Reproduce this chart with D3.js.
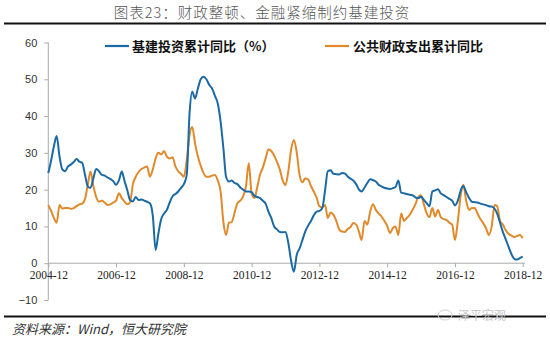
<!DOCTYPE html>
<html>
<head>
<meta charset="utf-8">
<script src="https://cdn.jsdelivr.net/npm/d3@7"></script>
<style>
  html, body { margin: 0; padding: 0; background: #fff; }
  svg { display: block; }
</style>
</head>
<body>
<svg id="chart" width="550" height="343"></svg>
<script>
// Monthly series, 2004-12 through 2018-12 (cumulative YoY, %)
const startMonth = "2004-12";
const infraInvest = [
  24.5, 28, 32, 34.6, 29, 25.5, 25, 26.3, 26.8, 27.5, 28.3, 27.6, 27.3,
  24, 20.8, 20.5, 23.1, 25.6, 25, 24, 23.8, 23.3, 22.9, 22.3, 21.3,
  22.5, 24.9, 22.5, 19.9, 17.2, 16.8, 18, 17.2, 17.3, 17, 16.7, 16.3,
  13, 3.6, 8, 12, 13.5, 14.5, 16.5, 18.2, 18.8, 19.5, 20.5, 21.5,
  24, 41, 46.6, 44.8, 47.5, 50, 50.7, 50, 48.5, 47.5, 45.5, 43.5,
  38.5, 31, 23.5, 22.2, 22.5, 21.8, 21.5, 20.6, 20, 19.5, 19.5, 19.3,
  18.3, 18, 17.7, 17, 16.2, 14, 12.3, 10, 9.2, 8.5, 8.4, 8.5,
  5.5, 0.5, -2.3, 2.3, 4, 6.3, 8.6, 10.2, 11.5, 13, 14, 14.2,
  15, 20, 25, 25.3, 24.3, 24.2, 24.1, 24.5, 24.4, 23.6, 23, 22.5,
  21.5, 20, 19.5, 20.6, 21.8, 22.8, 22.6, 22.2, 21.3, 20.9, 20.5, 20.3,
  20.2, 20.4, 20.7, 22.5, 19.2, 19, 18.8, 18.6, 18.5, 17.9, 17.7, 18.1,
  17.2, 16.3, 15.5, 19.5, 19.8, 20.1, 19, 18.5, 18, 17.5, 17, 15.7,
  17, 19.8, 21, 19.3, 17.8, 16.7, 16.6, 16.5, 16.2, 16, 15.8, 15.5,
  15.4, 14.8, 13.5, 11, 8.5, 6.5, 4.5, 2.5, 1.2, 1.0, 1.4, 1.8
];
const fiscalSpend = [
  15.8, 14.2, 12.2, 11, 15.8, 14.9, 15, 15, 14.8, 15, 15.5, 16, 16.2,
  17.5, 21.5, 24.9, 21, 18, 16.7, 17, 16.5, 15.8, 16, 16.5, 17,
  19, 17.7, 16.8, 16, 16.5, 21.5, 23.5, 24.8, 25.6, 26, 26.3, 23.5,
  25.5, 28.5, 30, 29.6, 30.5, 29, 28.5, 28.8, 26.3, 25, 24.3, 23.5,
  28, 35, 37, 32.5, 29, 26.5, 24.5, 23.5, 23.5, 23.8, 24, 22.5,
  19.5, 11, 7.7, 11, 11.2, 13.8, 16.3, 17, 18.2, 20.8, 27.2, 19,
  17.7, 20.8, 24, 26, 28.5, 31, 30.5, 29.3, 27.5, 25.5, 22.5, 21.2,
  25, 31, 33.5, 30, 24, 22, 23, 22.8, 21, 19.5, 17.8, 15.5,
  15.2, 15.8, 12.3, 13.8, 13.2, 11.5, 9.2, 8.6, 8.5, 9.3, 9.8, 10.9,
  10.5, 8.5, 6.3, 11.5, 10.5, 14, 16, 14.5, 13.5, 12.7, 11.5, 10.2,
  8.2, 9.6, 10, 7.7, 13.5, 11.5, 12.3, 13.1, 14.5, 16, 18, 18.5,
  16, 13.5, 12.5, 15, 12.7, 14.5, 12.5, 12, 11.8, 11, 10.5, 6.3,
  11.5, 18.5, 21.3, 17, 14.5, 15, 15, 13.5, 12, 10.9, 9.5, 7.7,
  10, 15.8, 15.5, 11.5, 10.5, 9, 8, 7.5, 7.1, 7.4, 7.7, 6.8
];
const seriesNames = ["基建投资累计同比（%）", "公共财政支出累计同比"];
const seriesColors = ["#1b6aa6", "#e08a2c"];
const xTickLabels = ["2004-12", "2006-12", "2008-12", "2010-12", "2012-12", "2014-12", "2016-12", "2018-12"];
const yTicks = [-10, 0, 10, 20, 30, 40, 50, 60];

const parseMonth = d3.timeParse("%Y-%m");
const fmtMonth = d3.timeFormat("%Y-%m");
const start = parseMonth(startMonth);
const dates = infraInvest.map((_, i) => d3.timeMonth.offset(start, i));

const svg = d3.select("#chart");

const x = d3.scaleTime()
  .domain([start, parseMonth(xTickLabels[xTickLabels.length - 1])])
  .range([48.3, 522.7]);
const y = d3.scaleLinear().domain([-10, 60]).range([300, 42.5]);

// Title and rules
svg.append("text")
  .attr("x", 262).attr("y", 18)
  .attr("text-anchor", "middle")
  .attr("font-family", "'Noto Sans CJK SC', sans-serif")
  .attr("font-size", 14.5)
  .attr("font-weight", 300)
  .attr("letter-spacing", 1)
  .attr("fill", "#555")
  .text("图表23：财政整顿、金融紧缩制约基建投资");

svg.append("line").attr("x1", 4).attr("x2", 546).attr("y1", 23.5).attr("y2", 23.5)
  .attr("stroke", "#111").attr("stroke-width", 2.2);
svg.append("line").attr("x1", 4).attr("x2", 546).attr("y1", 316.5).attr("y2", 316.5)
  .attr("stroke", "#111").attr("stroke-width", 2.2);

// Y axis
const yAxis = d3.axisLeft(y).tickValues(yTicks).tickSize(4).tickPadding(7);
const gy = svg.append("g").attr("transform", "translate(48.3,0)").call(yAxis);
gy.select(".domain").attr("stroke", "#aaa").attr("d", `M0,${y(60)}V${y(-10)}`);
gy.selectAll(".tick line").attr("stroke", "#aaa");
gy.selectAll(".tick text")
  .attr("font-family", "'Liberation Sans', Arial, sans-serif")
  .attr("font-size", 11).attr("fill", "#333");

// X axis at zero
const xAxis = d3.axisBottom(x)
  .tickValues(xTickLabels.map(parseMonth))
  .tickFormat(fmtMonth)
  .tickSize(4).tickPadding(4);
const gx = svg.append("g").attr("transform", `translate(0,${y(0)})`).call(xAxis);
gx.select(".domain").attr("stroke", "#aaa").attr("d", `M48.3,0H525`);
gx.selectAll(".tick line").attr("stroke", "#aaa");
gx.selectAll(".tick text")
  .attr("font-family", "'Liberation Serif', 'Times New Roman', serif")
  .attr("font-size", 11.5).attr("fill", "#222");

// Lines
const line = d3.line()
  .x((d, i) => x(dates[i]))
  .y(d => y(d))
  .curve(d3.curveMonotoneX);

[fiscalSpend, infraInvest].forEach((s, k) => {
  svg.append("path")
    .datum(s)
    .attr("fill", "none")
    .attr("stroke", seriesColors[1 - k])
    .attr("stroke-width", 2)
    .attr("stroke-linejoin", "round")
    .attr("d", line);
});

// Legend
const legendPos = [{x: 105, tx: 132}, {x: 325, tx: 353}];
seriesNames.forEach((name, i) => {
  const g = svg.append("g");
  g.append("line")
    .attr("x1", legendPos[i].x).attr("x2", legendPos[i].x + 24)
    .attr("y1", 46).attr("y2", 46)
    .attr("stroke", seriesColors[i]).attr("stroke-width", 2.2);
  g.append("text")
    .attr("x", legendPos[i].tx).attr("y", 50.5)
    .attr("font-family", "'Noto Sans CJK SC', sans-serif")
    .attr("font-size", 13).attr("font-weight", 700)
    .attr("fill", "#111")
    .text(name);
});

// Source note
svg.append("text")
  .attr("x", 12).attr("y", 334)
  .attr("font-family", "'Noto Sans CJK SC', sans-serif")
  .attr("font-size", 13).attr("font-style", "italic")
  .attr("fill", "#333")
  .text("资料来源：Wind，恒大研究院");

// Account mark
svg.append("text")
  .attr("x", 458).attr("y", 320)
  .attr("font-family", "'Noto Sans CJK SC', sans-serif")
  .attr("font-size", 12)
  .attr("fill", "#c8c8c8")
  .text("泽平宏观");
svg.append("ellipse")
  .attr("cx", 445).attr("cy", 315).attr("rx", 7).attr("ry", 5)
  .attr("fill", "none").attr("stroke", "#d0d0d0").attr("stroke-width", 1);
</script>
</body>
</html>
